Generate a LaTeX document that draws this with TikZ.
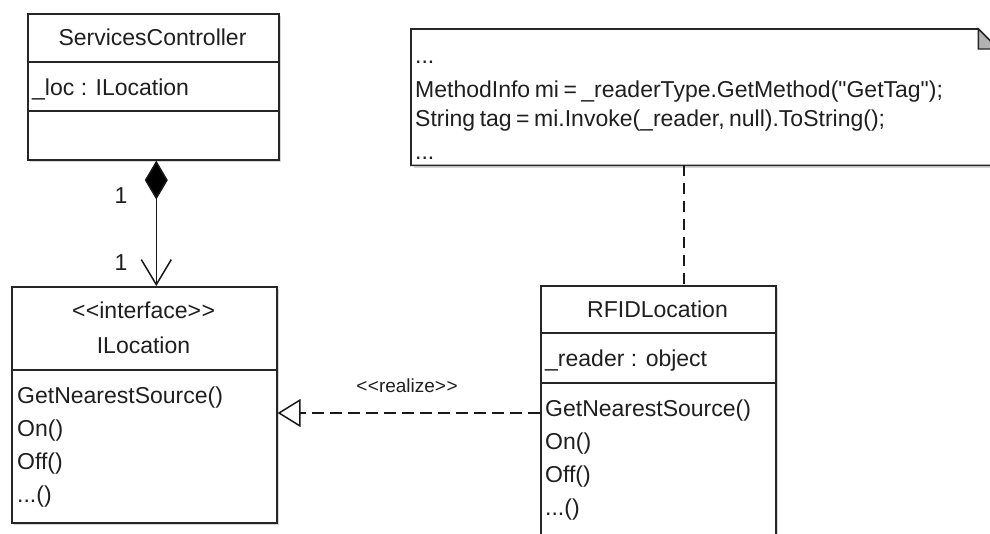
\documentclass[tikz,border=0pt]{standalone}
\usepackage{fontspec}
\setmainfont{Liberation Sans}
\usetikzlibrary{arrows.meta,calc,shadows}
% UML stereotype with plain angle brackets (kerns keep them from merging into guillemets)
\newcommand{\umlstereo}[1]{\textless\kern0.5pt\textless#1\textgreater\kern0.5pt\textgreater}
\tikzset{
  x=1pt, y=-1pt,
  classbox/.style={draw=black!85, line width=1.6pt, fill=white, rectangle,
    inner sep=0pt, anchor=north west,
    drop shadow={shadow xshift=2.5pt, shadow yshift=-2.5pt, fill=black!16, opacity=1}},
  divider/.style={draw=black!85, line width=1.6pt},
  txt/.style={font=\fontsize{23}{28}\selectfont, text=black!88, inner sep=0pt},
  codetxt/.style={txt, execute at begin node={\spaceskip=4.5pt\relax}},
  small/.style={font=\fontsize{19}{22}\selectfont, text=black!88, inner sep=0pt},
  link/.style={draw=black!90, line width=1.5pt},
  dashlink/.style={link, dash pattern=on 11pt off 7pt},
}
\begin{document}
\begin{tikzpicture}
\useasboundingbox (0,0) rectangle (990,533);
\clip (0,0) rectangle (990,533);

% ---- ServicesController ----
\node[classbox, minimum width=251pt, minimum height=146pt] (sc) at (27,13) {};
\draw[divider] (sc.west |- 0,62) -- (sc.east |- 0,62);
\draw[divider] (sc.west |- 0,111) -- (sc.east |- 0,111);
\node[txt, anchor=base] (scname) at (152.5,45) {ServicesController};
\node[txt, anchor=base west] (scloc) at (32,95) {\_loc : ILocation};

% ---- ILocation ----
\node[classbox, minimum width=265pt, minimum height=236pt] (iloc) at (11,286) {};
\draw[divider] (iloc.west |- 0,370) -- (iloc.east |- 0,370);
\node[txt, anchor=base] (ilst) at (143.5,318) {\umlstereo{interface}};
\node[txt, anchor=base] (ilname) at (143.5,353) {ILocation};
\node[txt, anchor=base west] (ilm1) at (17,403) {GetNearestSource()};
\node[txt, anchor=base west] (ilm2) at (17,436) {On()};
\node[txt, anchor=base west] (ilm3) at (17,469) {Off()};
\node[txt, anchor=base west] (ilm4) at (17,502) {...()};

% ---- RFIDLocation ----
\node[classbox, minimum width=235pt, minimum height=270pt] (rfid) at (540,285) {};
\draw[divider] (rfid.west |- 0,333) -- (rfid.east |- 0,333);
\draw[divider] (rfid.west |- 0,383) -- (rfid.east |- 0,383);
\node[txt, anchor=base] (rfname) at (657.5,317) {RFIDLocation};
\node[txt, anchor=base west] (rfrd) at (545,366) {\_reader : object};
\node[txt, anchor=base west] (rfm1) at (545,416) {GetNearestSource()};
\node[txt, anchor=base west] (rfm2) at (545,449) {On()};
\node[txt, anchor=base west] (rfm3) at (545,482) {Off()};
\node[txt, anchor=base west] (rfm4) at (545,515) {...()};

% ---- note with folded corner ----
\node[inner sep=0pt, minimum width=587pt, minimum height=136pt, anchor=north west] (note) at (411,29) {};
\draw[draw=black!85, line width=1.6pt, fill=white,
      drop shadow={shadow xshift=2.5pt, shadow yshift=-2.5pt, fill=black!16, opacity=1}]
  (note.north west) -- ([xshift=-20pt]note.north east) -- ([yshift=-20pt]note.north east)
  -- (note.south east) -- (note.south west) -- cycle;
\draw[draw=black!85, line width=1.4pt, fill=black!30]
  ([xshift=-20pt]note.north east) -- ([xshift=-20pt,yshift=-20pt]note.north east)
  -- ([yshift=-20pt]note.north east) -- cycle;
\node[codetxt, anchor=base west] (n1) at (415,63) {...};
\node[codetxt, anchor=base west] (n2) at (415,97) {MethodInfo mi = \_readerType.GetMethod(\textquotedbl GetTag\textquotedbl);};
\node[codetxt, anchor=base west] (n3) at (415,126) {String tag = mi.Invoke(\_reader, null).ToString();};
\node[codetxt, anchor=base west] (n4) at (415,159) {...};

% ---- connectors ----
% composition: ServicesController owns ILocation
\coordinate (compA) at ([xshift=3pt]sc.south);
\draw[link, {Diamond[length=39pt, width=23pt, fill=black]}-{Straight Barb[length=25pt, width=30pt, line width=1.5pt]}]
  (compA) -- (compA |- iloc.north);
\node[txt, anchor=base] (m1) at (121,203) {1};
\node[txt, anchor=base] (m2) at (121,270) {1};

% realization: RFIDLocation implements ILocation
\coordinate (realA) at ([yshift=-128pt]rfid.north west);
\draw[dashlink, dash pattern=on 12pt off 6pt, -{Triangle[open, length=23pt, width=28pt, line width=1.5pt, fill=white]}]
  (realA) -- (realA -| iloc.east);
\node[small, anchor=base] (rl) at (407,392) {\umlstereo{realize}};

% note anchor line
\coordinate (noteA) at (684,165);
\draw[dashlink] (noteA |- note.south) -- (noteA |- rfid.north);
\end{tikzpicture}
\end{document}
